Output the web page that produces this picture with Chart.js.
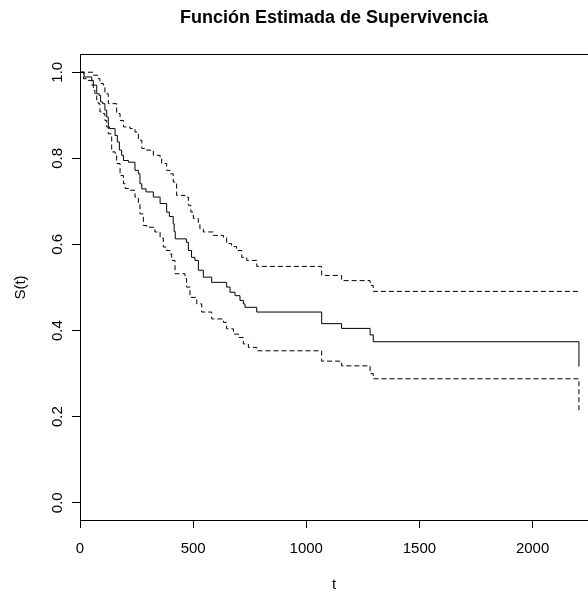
<!DOCTYPE html>
<html>
<head>
<meta charset="utf-8">
<script src="https://cdn.jsdelivr.net/npm/chart.js@4.4.1/dist/chart.umd.min.js"></script>
<style>
html, body { margin: 0; padding: 0; background: #fff; overflow: hidden; }
</style>
</head>
<body>
<canvas id="km" width="588" height="592"></canvas>
<script>
// Kaplan-Meier estimate and its confidence band
const survTimes = [0, 18, 52, 59, 74, 85, 91, 100, 110, 118, 125, 130, 155, 165, 174, 184, 192, 214, 243, 258,
    265, 273, 292, 324, 354, 383, 395, 412, 416, 421, 470, 479, 493, 508, 523, 545, 582, 648, 663, 685,
    707, 722, 729, 781, 1068, 1156, 1282, 1296, 2205];
const survValues = [1.000, 0.989, 0.981, 0.970, 0.950, 0.946, 0.931, 0.927, 0.912, 0.896, 0.873, 0.869, 0.853, 0.838, 0.819, 0.807, 0.795, 0.791, 0.772, 0.764,
    0.741, 0.729, 0.722, 0.710, 0.695, 0.675, 0.665, 0.648, 0.630, 0.613, 0.605, 0.586, 0.570, 0.563, 0.540, 0.524, 0.512, 0.501, 0.489, 0.481,
    0.470, 0.462, 0.454, 0.443, 0.416, 0.405, 0.390, 0.374, 0.316];

const upperTimes = [0, 59, 81, 88, 103, 110, 125, 162, 177, 192, 221, 243, 258, 273, 295, 324, 354, 361, 383, 398,
    412, 427, 464, 479, 490, 501, 523, 530, 545, 589, 634, 648, 670, 692, 715, 737, 781, 1068, 1156, 1282,
    1296, 2205];
const upperValues = [1.000, 0.993, 0.985, 0.974, 0.970, 0.950, 0.927, 0.904, 0.888, 0.873, 0.869, 0.861, 0.842, 0.823, 0.819, 0.807, 0.799, 0.788, 0.772, 0.764,
    0.745, 0.714, 0.710, 0.691, 0.675, 0.660, 0.648, 0.636, 0.629, 0.621, 0.617, 0.602, 0.595, 0.586, 0.570, 0.563, 0.549, 0.528, 0.516, 0.505,
    0.491, 0.491];

const lowerTimes = [0, 15, 29, 52, 59, 66, 74, 81, 88, 103, 110, 118, 125, 140, 155, 162, 177, 192, 200, 221,
    243, 258, 265, 280, 295, 331, 354, 368, 383, 398, 405, 420, 464, 471, 486, 516, 538, 582, 634, 648,
    678, 700, 722, 744, 781, 1068, 1156, 1282, 1296, 2205];
const lowerValues = [1.000, 0.985, 0.981, 0.970, 0.958, 0.950, 0.935, 0.927, 0.908, 0.904, 0.888, 0.873, 0.857, 0.815, 0.811, 0.788, 0.760, 0.741, 0.730, 0.726,
    0.710, 0.695, 0.671, 0.644, 0.640, 0.629, 0.615, 0.594, 0.586, 0.578, 0.563, 0.532, 0.521, 0.501, 0.477, 0.462, 0.443, 0.427, 0.419, 0.404,
    0.392, 0.384, 0.369, 0.361, 0.353, 0.329, 0.318, 0.300, 0.288, 0.214];

const xTicks = [0, 500, 1000, 1500, 2000];
const yTicks = [0.0, 0.2, 0.4, 0.6, 0.8, 1.0];

const FONT = "'Liberation Sans', Arial, sans-serif";

function toPoints(times, values) {
    return times.map((t, i) => ({ x: t, y: values[i] }));
}

function stepLine(label, points, dash) {
    return {
        label: label,
        data: points,
        borderColor: '#000',
        borderWidth: 1,
        borderDash: dash,
        pointRadius: 0,
        fill: false,
        stepped: true
    };
}

// top edge of the box + rotated y tick labels, R style
const rBox = {
    id: 'rBox',
    afterDraw(chart) {
        const ctx = chart.ctx;
        const area = chart.chartArea;
        const y = chart.scales.y;
        ctx.save();
        ctx.strokeStyle = '#000';
        ctx.lineWidth = 1;
        ctx.beginPath();
        ctx.moveTo(area.left, area.top - 0.5);
        ctx.lineTo(chart.width + 2, area.top - 0.5);
        ctx.stroke();

        ctx.fillStyle = '#000';
        ctx.font = '15px ' + FONT;
        ctx.textAlign = 'center';
        ctx.textBaseline = 'alphabetic';
        yTicks.forEach(v => {
            ctx.save();
            ctx.translate(62, y.getPixelForValue(v));
            ctx.rotate(-Math.PI / 2);
            ctx.fillText(v.toFixed(1), 0, 0);
            ctx.restore();
        });
        ctx.restore();
    }
};

const ctx = document.getElementById('km').getContext('2d');
new Chart(ctx, {
    type: 'line',
    data: {
        datasets: [
            stepLine('S(t)', toPoints(survTimes, survValues), []),
            stepLine('superior', toPoints(upperTimes, upperValues), [5, 3]),
            stepLine('inferior', toPoints(lowerTimes, lowerValues), [5, 3])
        ]
    },
    options: {
        responsive: false,
        animation: false,
        layout: { padding: 0 },
        scales: {
            x: {
                type: 'linear',
                min: 0,
                max: 2245,
                afterBuildTicks: scale => { scale.ticks = xTicks.map(v => ({ value: v })); },
                afterFit: scale => { scale.height = 72; },
                grid: { drawOnChartArea: false, drawTicks: true, tickLength: 8, color: '#000' },
                border: { display: true, color: '#000', width: 1 },
                ticks: {
                    color: '#000',
                    padding: 12,
                    maxRotation: 0,
                    font: { family: FONT, size: 15 },
                    callback: v => String(v)
                },
                title: {
                    display: true,
                    text: 't',
                    color: '#000',
                    font: { family: FONT, size: 15, lineHeight: 1 },
                    padding: { top: 0, bottom: 0 }
                }
            },
            y: {
                type: 'linear',
                min: -0.04,
                max: 1.04,
                afterBuildTicks: scale => { scale.ticks = yTicks.map(v => ({ value: v })); },
                afterFit: scale => { scale.width = 80; },
                grid: { drawOnChartArea: false, drawTicks: true, tickLength: 8, color: '#000' },
                border: { display: true, color: '#000', width: 1 },
                ticks: { display: false },
                title: {
                    display: true,
                    text: 'S(t)',
                    color: '#000',
                    font: { family: FONT, size: 15, lineHeight: 1.2 },
                    padding: { top: 12, bottom: 0 }
                }
            }
        },
        plugins: {
            legend: { display: false },
            tooltip: { enabled: false },
            title: {
                display: true,
                fullSize: false,
                text: 'Función Estimada de Supervivencia',
                color: '#000',
                font: { family: FONT, size: 18, weight: 'bold', lineHeight: 1.2 },
                padding: { top: 7, bottom: 26.4 }
            }
        }
    },
    plugins: [rBox]
});
</script>
</body>
</html>
